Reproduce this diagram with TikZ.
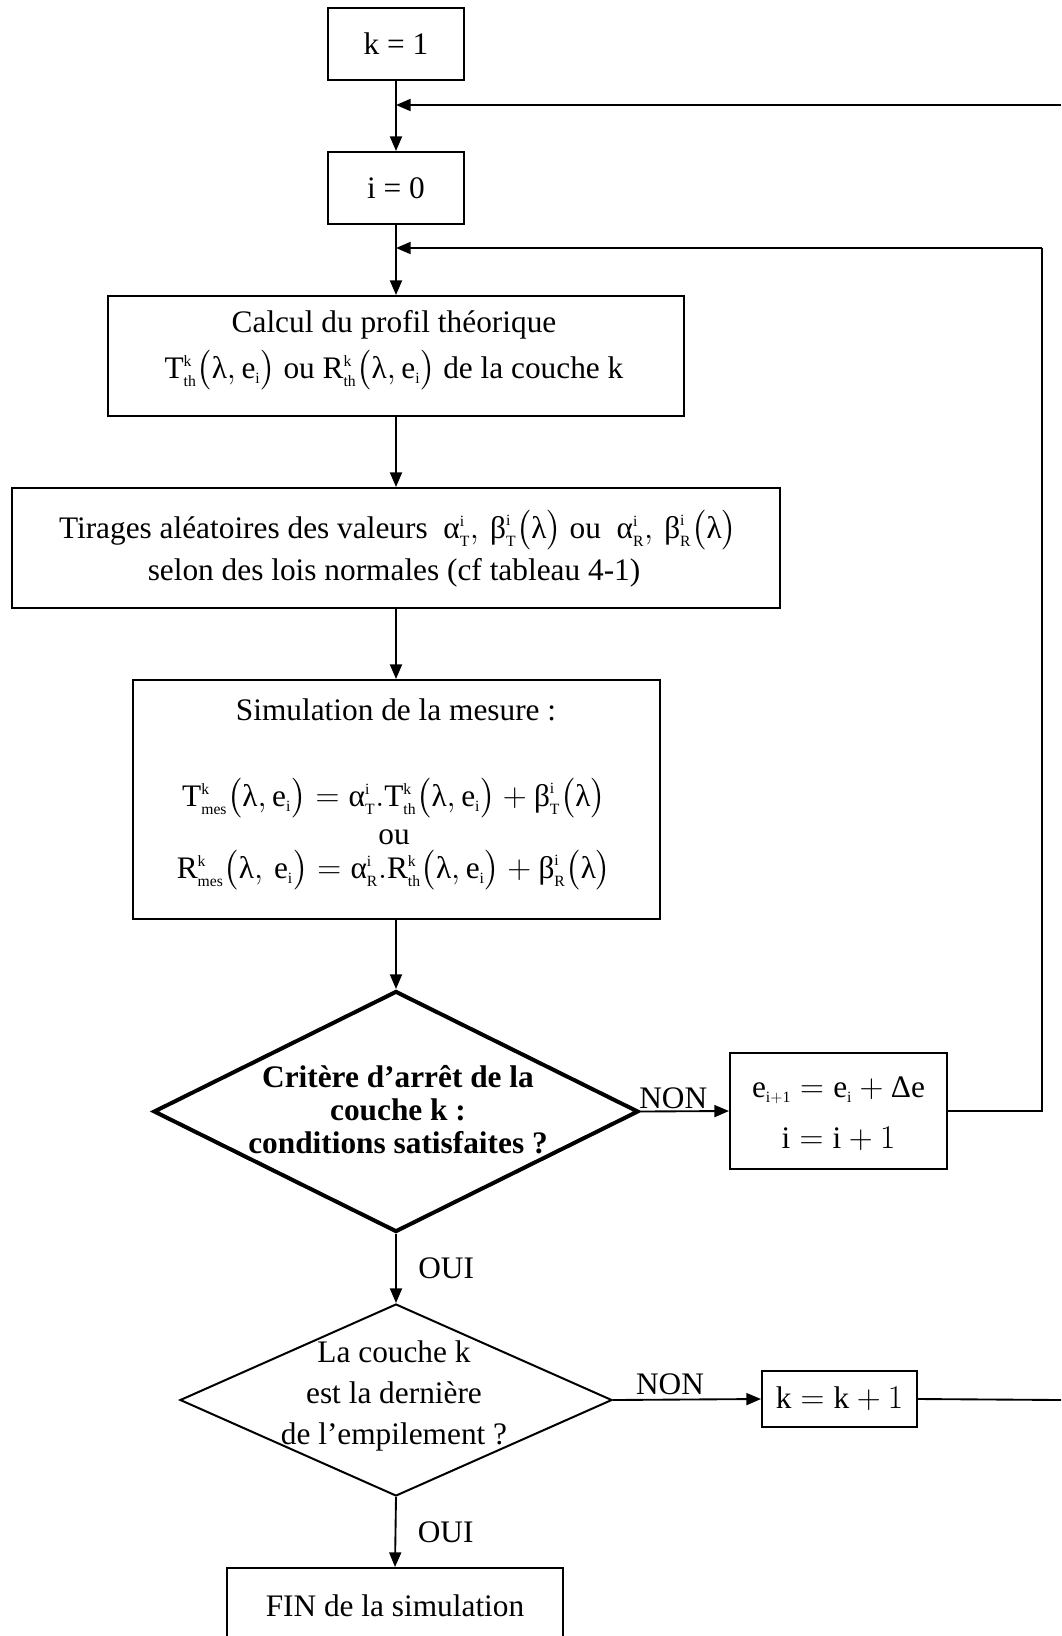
\documentclass[tikz,border=0pt]{standalone}
\usepackage{amsmath}
\usepackage{fontspec}
\setmainfont{Liberation Serif}
\usetikzlibrary{arrows.meta,shapes.geometric}

\newcommand\gl{\text{λ}}
\newcommand\ga{\text{α}}
\newcommand\gb{\text{β}}
\newcommand\gD{\text{Δ}}
\newcommand\Qq[3]{\mathrm{#1}^{\scriptscriptstyle\mathrm{#2}}_{\scriptscriptstyle\mathrm{#3}}}
\newcommand\Ei{\mathrm{e}_{\scriptscriptstyle\mathrm{i}}}
\newcommand\Lp{\bigl(}
\newcommand\Rp{\bigr)}

\begin{document}
\begin{tikzpicture}[x=0.75pt,y=-0.75pt,
  font=\fontsize{23.5}{32}\selectfont,
  line width=1.4pt,
  >={Triangle[length=11pt,width=9pt]},
  box/.style={draw, rectangle, line width=1.5pt, inner sep=0pt, align=center},
  txt/.style={inner sep=0pt, align=center},
  dec/.style={draw, diamond, inner sep=0pt, line width=1.5pt},
  lab/.style={inner sep=0pt}
]
\useasboundingbox (0,0) rectangle (1061,1636);
\clip (0,0) rectangle (1061,1636);

% boxes
\node[box, minimum width=102pt, minimum height=54pt] (k1) at (396,44) {k = 1};
\node[box, minimum width=102pt, minimum height=54pt] (i0) at (396,188) {i = 0};
\node[box, minimum width=432pt, minimum height=90pt] (calc) at (396,356) {};
\node[box, minimum width=576pt, minimum height=90pt] (tir) at (396,548) {};
\node[box, minimum width=395.25pt, minimum height=179.25pt] (sim) at (396,799.5) {};
\node[dec, line width=3pt, minimum width=363.75pt, minimum height=180.75pt] (d1) at (396,1111.5) {};
\node[box, minimum width=162.75pt, minimum height=87pt] (eb) at (838.5,1111) {};
\node[dec, minimum width=324pt, minimum height=144pt] (d2) at (396,1400) {};
\node[box, minimum width=116.25pt, minimum height=42pt] (kb) at (839.5,1399) {$\mathrm{k}=\mathrm{k}+1$};
\node[box, minimum width=252pt, minimum height=57pt] (fin) at (395,1606) {FIN de la simulation};

% texts
\node[txt] (calc1) at (394,325) {Calcul du profil théorique};
\node[txt] (calc2) at (394,370) {$\Qq{T}{k}{th}\Lp\gl,\Ei\Rp$ ou $\Qq{R}{k}{th}\Lp\gl,\Ei\Rp$ de la couche k};
\node[txt] (tir1) at (398,530) {Tirages aléatoires des valeurs \ $\Qq{\ga}{i}{T},\,\Qq{\gb}{i}{T}\Lp\gl\Rp$ ou \ $\Qq{\ga}{i}{R},\,\Qq{\gb}{i}{R}\Lp\gl\Rp$};
\node[txt] (tir2) at (394,573) {selon des lois normales (cf tableau 4-1)};
\node[txt] (sim1) at (396,710) {Simulation de la mesure :};
\node[txt] (sim2) at (394,798) {$\Qq{T}{k}{mes}\Lp\gl,\Ei\Rp=\Qq{\ga}{i}{T}{.}\Qq{T}{k}{th}\Lp\gl,\Ei\Rp+\Qq{\gb}{i}{T}\Lp\gl\Rp$};
\node[txt] (sim3) at (394,837) {ou};
\node[txt] (sim4) at (394,870) {$\Qq{R}{k}{mes}\Lp\gl,\,\Ei\Rp=\Qq{\ga}{i}{R}{.}\Qq{R}{k}{th}\Lp\gl,\Ei\Rp+\Qq{\gb}{i}{R}\Lp\gl\Rp$};
\node[txt, font=\fontsize{23.5}{24.75}\selectfont\bfseries] (d1t) at (398,1110) {Critère d’arrêt de la\\couche k :\\conditions satisfaites ?};
\node[txt, font=\fontsize{23.5}{31}\selectfont] (d2t) at (394,1396) {La couche k\\est la dernière\\de l’empilement ?};
\node[txt] (eb1) at (838.5,1090) {$\mathrm{e}_{\scriptscriptstyle\mathrm{i+1}}=\Ei+\gD\mathrm{e}$};
\node[txt] (eb2) at (838.5,1139) {$\mathrm{i}=\mathrm{i}+1$};

% junctions
\coordinate (j1) at (396,105);
\coordinate (j2) at (396,248);
\coordinate (r1) at (1061,105);
\coordinate (r2) at (1042,248);
\coordinate (r3) at (1061,1400);

% connectors
\draw[->] (k1.south) -- (i0.north);
\draw[->] (r1) -- (j1);
\draw[->] (i0.south) -- (i0.south |- calc.north);
\draw[->] (r2) -- (j2);
\draw[->] (calc.south -| i0.south) -- (i0.south |- tir.north);
\draw[->] (tir.south -| i0.south) -- (i0.south |- sim.north);
\draw[->] (sim.south -| i0.south) -- (d1.north);
\draw[->] (d1.east) -- node[lab, pos=0.37, above=1pt] {NON} (eb.west);
\draw (eb.east) -- (r2 |- eb.east) -- (r2);
\draw[->] (d1.south) -- node[lab, right=16pt] {OUI} (d2.north);
\draw[->] (d2.east) -- node[lab, pos=0.385, above=3pt] {NON} (kb.west);
\draw (kb.east) -- (r3);
\draw[->] (d2.south) -- node[lab, right=16pt] {OUI} (fin.north);
\end{tikzpicture}
\end{document}
